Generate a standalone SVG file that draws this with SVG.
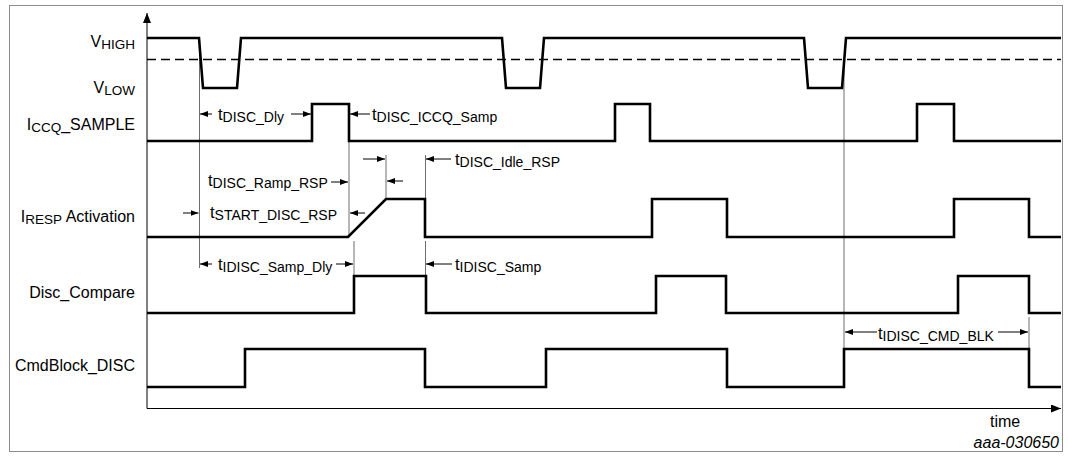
<svg xmlns="http://www.w3.org/2000/svg" width="1068" height="456" viewBox="0 0 1068 456">
<style>
.frame{fill:#fff;stroke:#8c8c8c;stroke-width:1}
.axis{fill:none;stroke:#000;stroke-width:1}
.trace{fill:none;stroke:#000;stroke-width:2.6;stroke-linejoin:miter}
.thr{fill:none;stroke:#000;stroke-width:1.3;stroke-dasharray:9 5}
.guide{fill:none;stroke:#6e6e6e;stroke-width:1}
.dim{fill:none;stroke:#000;stroke-width:1;marker-end:url(#ah)}
.lbl{font-family:"Liberation Sans",Arial,sans-serif;font-size:16px;fill:#000}
.tm{font-size:16.5px}
.sub{font-size:13.5px}
.tsub{font-size:14px}
</style>
<defs>
<marker id="ah" markerWidth="8" markerHeight="6" refX="8" refY="3" orient="auto" markerUnits="userSpaceOnUse"><path d="M0,0 L8,3 L0,6 z" fill="#000"/></marker>
<marker id="axh" markerWidth="10" markerHeight="8" refX="10" refY="4" orient="auto" markerUnits="userSpaceOnUse"><path d="M0,0 L10,4 L0,8 z" fill="#000"/></marker>
</defs>
<rect class="frame" x="9.5" y="5.5" width="1053" height="446"/>
<g id="axes">
<line class="axis" x1="147" y1="408.5" x2="147" y2="13" marker-end="url(#axh)"/>
<line class="axis" x1="147" y1="408.5" x2="1061" y2="408.5" marker-end="url(#axh)"/>
<text class="lbl" x="990" y="427">time</text>
</g>
<g id="labels" class="lbl" text-anchor="end">
<text x="135" y="46.5">V<tspan class="sub" dy="2">HIGH</tspan></text>
<text x="135" y="92.5">V<tspan class="sub" dy="2">LOW</tspan></text>
<text x="135" y="130">I<tspan class="sub" dy="2">CCQ</tspan><tspan dy="-2">_SAMPLE</tspan></text>
<text x="135" y="222">I<tspan class="sub" dy="2">RESP</tspan><tspan dy="-2"> Activation</tspan></text>
<text x="135" y="298">Disc_Compare</text>
<text x="135" y="371">CmdBlock_DISC</text>
</g>
<g id="guides">
<line class="guide" x1="199.5" y1="38" x2="199.5" y2="268"/>
<line class="guide" x1="349" y1="141" x2="349" y2="237"/>
<line class="guide" x1="386" y1="155" x2="386" y2="199"/>
<line class="guide" x1="425.5" y1="155" x2="425.5" y2="199"/>
<line class="guide" x1="425.5" y1="241" x2="425.5" y2="276"/>
<line class="guide" x1="354" y1="241" x2="354" y2="276"/>
<line class="guide" x1="844" y1="64" x2="844" y2="349"/>
<line class="guide" x1="1029" y1="317" x2="1029" y2="349"/>
</g>
<g id="vsignal">
<line class="thr" x1="147" y1="59.5" x2="1061" y2="59.5"/>
<polyline class="trace" points="147,38 199,38 203,88 237,88 241,38 502,38 506,88 540,88 544,38 804,38 808,88 842,88 846,38 1061,38"/>
</g>
<g id="iccq">
<polyline class="trace" points="147,141 312,141 312,104 349,104 349,141 615,141 615,104 650,104 650,141 917,141 917,104 954,104 954,141 1061,141"/>
</g>
<g id="iresp">
<polyline class="trace" points="147,237 348,237 386,199 425,199 425,237 652,237 652,199 727,199 727,237 954,237 954,199 1029,199 1029,237 1061,237"/>
</g>
<g id="disccompare">
<polyline class="trace" points="147,313 354,313 354,276 426,276 426,313 656,313 656,276 726,276 726,313 958,313 958,276 1029,276 1029,313 1061,313"/>
</g>
<g id="cmdblock">
<polyline class="trace" points="147,387 245,387 245,349 425,349 425,387 546,387 546,349 727,349 727,387 844,387 844,349 1029,349 1029,387 1061,387"/>
</g>
<g id="connectors">
<line class="dim" x1="212" y1="114" x2="200" y2="114"/>
<line class="dim" x1="291" y1="114" x2="311" y2="114"/>
<line class="dim" x1="370" y1="114" x2="350" y2="114"/>
<line class="dim" x1="331" y1="182" x2="348" y2="182"/>
<line class="dim" x1="363" y1="159" x2="385" y2="159"/>
<line class="dim" x1="403" y1="181" x2="387" y2="181"/>
<line class="dim" x1="451" y1="159" x2="426" y2="159"/>
<line class="dim" x1="183" y1="213" x2="198.5" y2="213"/>
<line class="dim" x1="365" y1="213" x2="350" y2="213"/>
<line class="dim" x1="212" y1="264" x2="200" y2="264"/>
<line class="dim" x1="336" y1="264" x2="353" y2="264"/>
<line class="dim" x1="452" y1="264" x2="426" y2="264"/>
<line class="dim" x1="877" y1="332" x2="845" y2="332"/>
<line class="dim" x1="998" y1="332" x2="1028" y2="332"/>
</g>
<g id="timings" class="lbl tm">
<text x="218" y="120">t<tspan class="tsub" dy="2">DISC_Dly</tspan></text>
<text x="372" y="120">t<tspan class="tsub" dy="2">DISC_ICCQ_Samp</tspan></text>
<text x="455" y="165">t<tspan class="tsub" dy="2">DISC_Idle_RSP</tspan></text>
<text x="208" y="186">t<tspan class="tsub" dy="2">DISC_Ramp_RSP</tspan></text>
<text x="210" y="218">t<tspan class="tsub" dy="2">START_DISC_RSP</tspan></text>
<text x="218" y="270">t<tspan class="tsub" dy="2">IDISC_Samp_Dly</tspan></text>
<text x="455" y="270">t<tspan class="tsub" dy="2">IDISC_Samp</tspan></text>
<text x="878" y="339">t<tspan class="tsub" dy="2">IDISC_CMD_BLK</tspan></text>
</g>
<text class="lbl" x="1059" y="448" text-anchor="end" font-style="italic" font-size="14px">aaa-030650</text>
</svg>
